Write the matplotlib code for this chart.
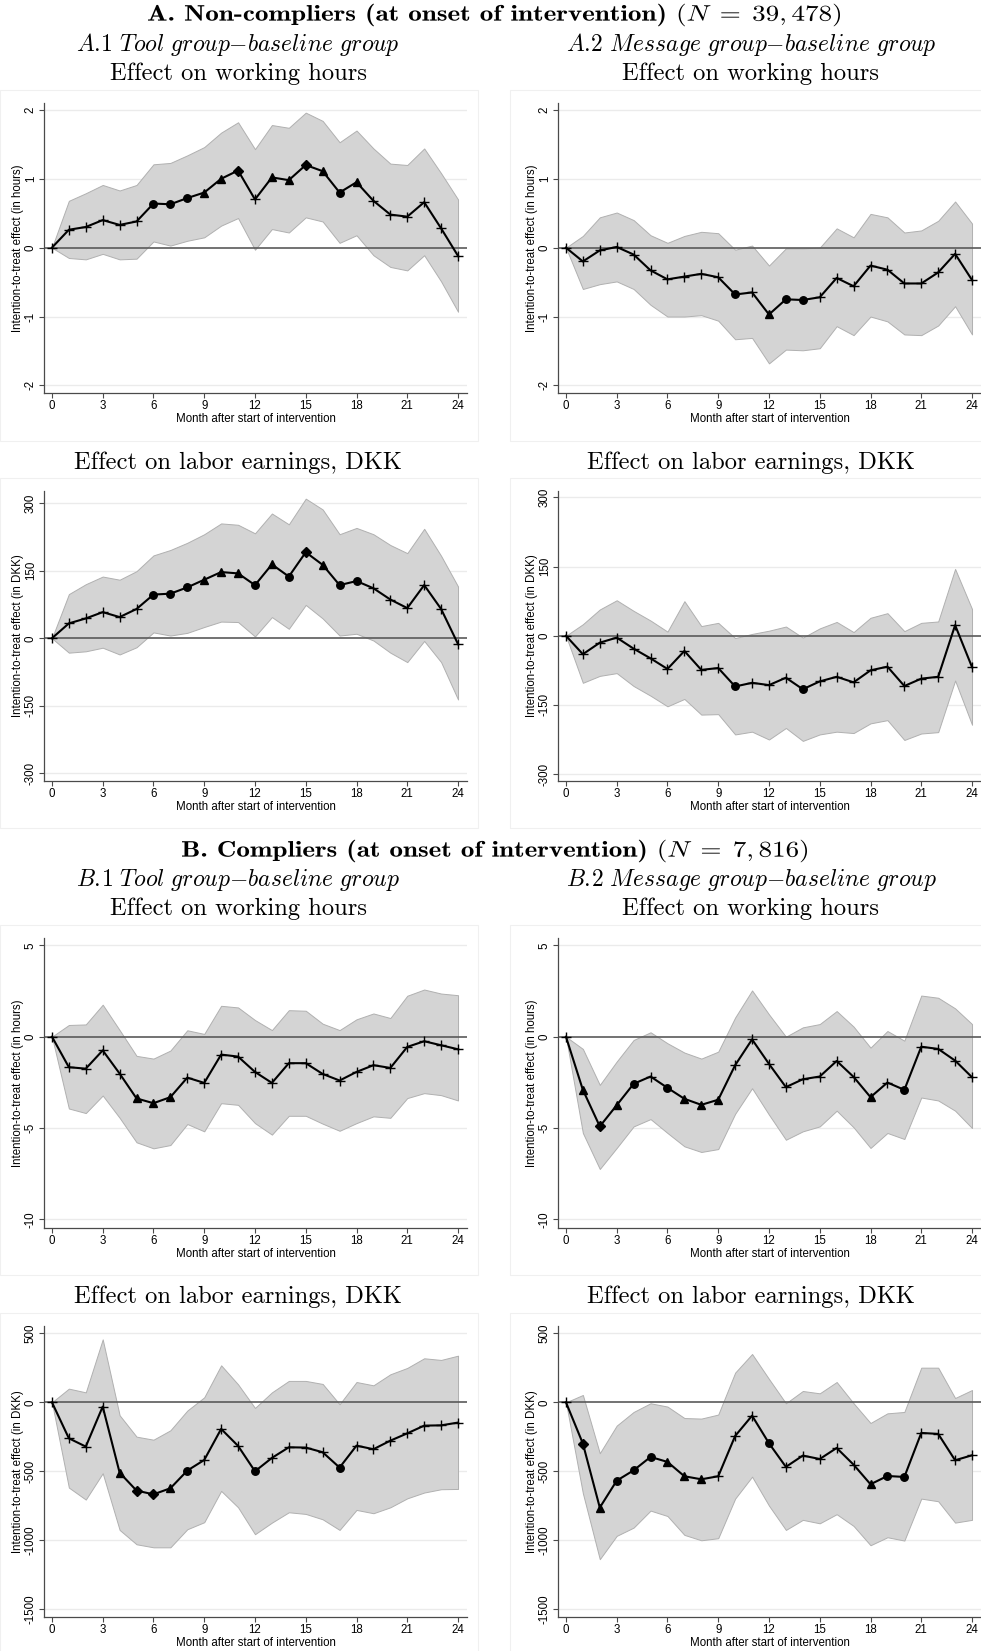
import matplotlib
matplotlib.use("Agg")
import matplotlib.pyplot as plt
from matplotlib.patches import Rectangle, PathPatch
from matplotlib.textpath import TextPath
from matplotlib.font_manager import FontProperties
from matplotlib.transforms import Affine2D, IdentityTransform

plt.rcParams["mathtext.fontset"] = "cm"
plt.rcParams["axes.unicode_minus"] = False
plt.rcParams["font.family"] = ["Liberation Sans", "DejaVu Sans"]

months = list(range(25))

# marker code per month: "+" not significant, "o" 10%, "^" 5%, "D" 1%
# ---- A. non-compliers ----
a1_hours = [0, 0.26, 0.30, 0.40, 0.33, 0.38, 0.64, 0.63, 0.72, 0.80, 1.00, 1.12, 0.70,
            1.02, 0.98, 1.20, 1.11, 0.80, 0.95, 0.68, 0.48, 0.45, 0.66, 0.28, -0.12]
a1_hours_hi = [0, 0.68, 0.79, 0.91, 0.83, 0.91, 1.21, 1.23, 1.34, 1.46, 1.67, 1.82, 1.43,
               1.78, 1.74, 1.96, 1.84, 1.53, 1.70, 1.44, 1.22, 1.20, 1.44, 1.08, 0.70]
a1_hours_lo = [0, -0.15, -0.17, -0.09, -0.17, -0.16, 0.09, 0.03, 0.10, 0.15, 0.32, 0.43, -0.03,
               0.27, 0.22, 0.44, 0.38, 0.07, 0.18, -0.11, -0.28, -0.33, -0.11, -0.49, -0.93]
a1_hours_sig = "++++++ooo^^D+^^D^o^++++++"

a2_hours = [0, -0.20, -0.04, 0.01, -0.10, -0.33, -0.46, -0.42, -0.38, -0.43, -0.68, -0.65, -0.97,
            -0.75, -0.76, -0.72, -0.44, -0.56, -0.26, -0.32, -0.52, -0.52, -0.36, -0.09, -0.47]
a2_hours_hi = [0, 0.17, 0.44, 0.51, 0.40, 0.18, 0.07, 0.17, 0.23, 0.21, -0.03, 0.03, -0.26,
               -0.01, -0.01, 0.00, 0.28, 0.15, 0.49, 0.44, 0.22, 0.25, 0.39, 0.67, 0.35]
a2_hours_lo = [0, -0.60, -0.53, -0.49, -0.60, -0.83, -1.00, -1.00, -0.98, -1.06, -1.33, -1.31, -1.68,
               -1.48, -1.49, -1.46, -1.14, -1.27, -1.00, -1.07, -1.26, -1.27, -1.13, -0.85, -1.26]
a2_hours_sig = "++++++++++o+^oo++++++++++"

a1_earn = [0, 33, 44, 58, 47, 65, 97, 99, 113, 130, 147, 144, 118,
           164, 137, 191, 163, 118, 127, 111, 86, 67, 118, 65, -13]
a1_earn_hi = [0, 98, 120, 137, 130, 149, 184, 196, 212, 231, 255, 252, 233,
              277, 253, 310, 286, 231, 245, 231, 207, 189, 243, 183, 115]
a1_earn_lo = [0, -32, -29, -21, -36, -20, 13, 6, 12, 25, 37, 36, 4,
              47, 21, 74, 44, 6, 10, -5, -32, -53, -6, -53, -136]
a1_earn_sig = "++++++ooo^^^o^oD^oo++++++"

a2_earn = [0, -40, -15, -4, -28, -49, -72, -33, -74, -70, -110, -102, -107,
           -91, -116, -99, -89, -101, -75, -67, -109, -93, -89, 23, -68]
a2_earn_hi = [0, 25, 57, 77, 54, 33, 9, 75, 21, 28, -5, 4, 11,
              20, -4, 16, 30, 8, 39, 49, 10, 28, 31, 145, 58]
a2_earn_lo = [0, -102, -87, -81, -109, -130, -153, -137, -171, -170, -214, -208, -225,
              -200, -228, -214, -208, -211, -190, -183, -226, -212, -209, -97, -193]
a2_earn_sig = "++++++++++o+++o++++++++++"

# ---- B. compliers ----
b1_hours = [0, -1.67, -1.75, -0.75, -2.02, -3.38, -3.64, -3.31, -2.24, -2.53, -0.98, -1.09, -1.93,
            -2.53, -1.45, -1.45, -2.04, -2.40, -1.93, -1.56, -1.71, -0.56, -0.25, -0.47, -0.69]
b1_hours_hi = [0, 0.64, 0.67, 1.75, 0.36, -1.05, -1.20, -0.76, 0.35, 0.15, 1.69, 1.60, 0.91,
               0.36, 1.45, 1.42, 0.71, 0.36, 0.95, 1.27, 1.02, 2.24, 2.58, 2.36, 2.27]
b1_hours_lo = [0, -3.93, -4.18, -3.22, -4.44, -5.78, -6.11, -5.93, -4.78, -5.18, -3.64, -3.73, -4.73,
               -5.36, -4.33, -4.33, -4.76, -5.15, -4.73, -4.36, -4.44, -3.36, -3.09, -3.20, -3.49]
b1_hours_sig = "+++++^^^+++++++++++++++++"

b2_hours = [0, -2.91, -4.91, -3.75, -2.58, -2.18, -2.80, -3.40, -3.73, -3.45, -1.56, -0.15, -1.49,
            -2.76, -2.33, -2.18, -1.33, -2.20, -3.31, -2.51, -2.91, -0.55, -0.67, -1.31, -2.22]
b2_hours_hi = [0, -0.67, -2.64, -1.36, -0.18, 0.24, -0.36, -0.87, -1.20, -0.82, 1.05, 2.53, 1.22,
               0.00, 0.51, 0.69, 1.40, 0.55, -0.60, 0.31, -0.22, 2.25, 2.13, 1.55, 0.69]
b2_hours_lo = [0, -5.27, -7.24, -6.09, -4.91, -4.51, -5.27, -6.00, -6.31, -6.15, -4.22, -2.82, -4.27,
               -5.64, -5.18, -4.91, -4.05, -4.96, -6.09, -5.27, -5.60, -3.33, -3.49, -4.05, -5.00]
b2_hours_sig = "+^D^o+o^^^++++++++^+o++++"

b1_earn = [0, -261, -321, -31, -510, -640, -667, -623, -495, -418, -193, -316, -500,
           -403, -326, -328, -362, -473, -314, -340, -278, -225, -169, -167, -147]
b1_earn_hi = [0, 99, 72, 456, -94, -249, -271, -203, -60, 36, 268, 130, -41,
              72, 155, 155, 133, -14, 147, 123, 203, 249, 319, 307, 338]
b1_earn_lo = [0, -618, -705, -514, -925, -1029, -1051, -1051, -920, -869, -642, -761, -956,
              -872, -797, -809, -848, -925, -780, -804, -761, -696, -654, -630, -628]
b1_earn_sig = "++++^DD^o+++o++++o+++++++"

b2_earn = [0, -299, -763, -568, -493, -396, -432, -536, -558, -536, -244, -97, -297,
           -468, -386, -411, -331, -452, -594, -534, -541, -222, -229, -420, -384]
b2_earn_hi = [0, 53, -369, -169, -70, -7, -31, -114, -118, -89, 215, 350, 169,
              -7, 82, 65, 147, -7, -150, -80, -70, 251, 251, 31, 89]
b2_earn_lo = [0, -659, -1137, -968, -908, -785, -824, -961, -1000, -985, -698, -539, -749,
              -925, -852, -877, -811, -896, -1036, -978, -1002, -698, -717, -872, -852]
b2_earn_sig = "+D^ooo^^^+++o+++++^oo++++"

W, H = 981, 1651
fig = plt.figure(figsize=(W / 100, H / 100), dpi=100)


def px_axes(x0, y0, x1, y1):
    return fig.add_axes([x0 / W, 1 - y1 / H, (x1 - x0) / W, (y1 - y0) / H])


def draw_panel(ax, est, lo, hi, sig, yticks, ylim, ylabel):
    ax.fill_between(months, lo, hi, facecolor="#d4d4d4", edgecolor="#b0b0b0", lw=0.7, zorder=1)
    for t in yticks:
        if t != 0:
            ax.axhline(t, color="#ebebeb", lw=1.0, zorder=0)
    ax.axhline(0, color="#5a5a5a", lw=1.2, zorder=2)
    ax.plot(months, est, color="black", lw=1.5, zorder=3)
    for m, v, s in zip(months, est, sig):
        if s == "+":
            ax.plot(m, v, marker="+", ms=7.5, mew=1.0, color="black", zorder=4)
        elif s == "o":
            ax.plot(m, v, marker="o", ms=5.4, color="black", zorder=4)
        elif s == "^":
            ax.plot(m, v, marker="^", ms=5.8, color="black", zorder=4)
        else:
            ax.plot(m, v, marker="D", ms=5.2, color="black", zorder=4)
    ax.set_xlim(-0.47, 24.53)
    ax.set_ylim(*ylim)
    ax.set_xticks(range(0, 25, 3))
    ax.set_yticks(yticks)
    for side in ("top", "right"):
        ax.spines[side].set_visible(False)
    for side in ("left", "bottom"):
        ax.spines[side].set_color("#4a4a4a")
        ax.spines[side].set_linewidth(0.9)
    ax.tick_params(length=3.6, width=0.8, color="#4a4a4a", labelsize=8.3, pad=1.5)
    for lab in ax.get_yticklabels():
        lab.set_rotation(90)
        lab.set_va("center")
    ax.set_xlabel("Month after start of intervention", fontsize=8.3, va="center")
    ax.xaxis.set_label_coords(0.5, -26 / 290)
    ax.set_ylabel(ylabel, fontsize=8.3, va="center")
    ax.yaxis.set_label_coords(-26 / 423, 0.5)


# faint graph-region frames
for x0, x1 in [(0, 478), (510, 990)]:
    for y0, y1 in [(90, 441), (478, 828), (925, 1275), (1313, 1660)]:
        fig.add_artist(Rectangle((x0 / W, 1 - y1 / H), (x1 - x0) / W, (y1 - y0) / H,
                                 transform=fig.transFigure, fill=False,
                                 edgecolor="#f0f0f0", lw=0.8))

cols = [(44, 467), (558, 981)]
rows = [(103, 393), (491, 781), (938, 1228), (1326, 1617)]

hours_lab = "Intention-to-treat effect (in hours)"
earn_lab = "Intention-to-treat effect (in DKK)"

panels = [
    (0, 0, a1_hours, a1_hours_lo, a1_hours_hi, a1_hours_sig, [-2, -1, 0, 1, 2], (-2.11, 2.1), hours_lab),
    (0, 1, a2_hours, a2_hours_lo, a2_hours_hi, a2_hours_sig, [-2, -1, 0, 1, 2], (-2.11, 2.1), hours_lab),
    (1, 0, a1_earn, a1_earn_lo, a1_earn_hi, a1_earn_sig, [-300, -150, 0, 150, 300], (-317, 327), earn_lab),
    (1, 1, a2_earn, a2_earn_lo, a2_earn_hi, a2_earn_sig, [-300, -150, 0, 150, 300], (-315, 314), earn_lab),
    (2, 0, b1_hours, b1_hours_lo, b1_hours_hi, b1_hours_sig, [-10, -5, 0, 5], (-10.47, 5.4), hours_lab),
    (2, 1, b2_hours, b2_hours_lo, b2_hours_hi, b2_hours_sig, [-10, -5, 0, 5], (-10.47, 5.4), hours_lab),
    (3, 0, b1_earn, b1_earn_lo, b1_earn_hi, b1_earn_sig, [-1500, -1000, -500, 0, 500], (-1556, 553), earn_lab),
    (3, 1, b2_earn, b2_earn_lo, b2_earn_hi, b2_earn_sig, [-1500, -1000, -500, 0, 500], (-1556, 553), earn_lab),
]

for r, c, est, lo, hi, sig, yt, yl, lab in panels:
    x0, x1 = cols[c]
    y0, y1 = rows[r]
    ax = px_axes(x0, y0, x1, y1)
    draw_panel(ax, est, lo, hi, sig, yt, yl, lab)


def ftext(x, y, s, **kw):
    fig.text(x / W, 1 - y / H, s, ha="center", va="center", **kw)


def wide_heading(xc, yc, s, em_px, width_px):
    # bold extended look: cmb10 outline stretched horizontally to the wanted width
    tp = TextPath((0, 0), s, size=em_px, prop=FontProperties(family="cmb10"))
    bb = tp.get_extents()
    sx = width_px / bb.width
    tr = (Affine2D().translate(-(bb.x0 + bb.x1) / 2, -(bb.y0 + bb.y1) / 2)
          .scale(sx, 1).translate(xc, H - yc))
    fig.add_artist(PathPatch(tr.transform_path(tp), facecolor="black", lw=0,
                             transform=IdentityTransform()))


# headings
wide_heading(494, 15, r"A. Non-compliers (at onset of intervention) $(N\;=\;39,478)$", 22.5, 692)
wide_heading(494.5, 851, r"B. Compliers (at onset of intervention) $(N\;=\;7,816)$", 22.5, 625)

ftext(238, 45, r"$\mathit{A.\!1\ Tool\ group{-}baseline\ group}$", fontsize=17)
ftext(751, 45, r"$\mathit{A.\!2\ Message\ group{-}baseline\ group}$", fontsize=17)
ftext(238, 880, r"$\mathit{B.\!1\ Tool\ group{-}baseline\ group}$", fontsize=17)
ftext(751, 880, r"$\mathit{B.\!2\ Message\ group{-}baseline\ group}$", fontsize=17)

for cx in (238, 751):
    ftext(cx, 74, "Effect on working hours", family="cmr10", fontsize=17.7)
    ftext(cx, 463, "Effect on labor earnings, DKK", family="cmr10", fontsize=17.7)
    ftext(cx, 909, "Effect on working hours", family="cmr10", fontsize=17.7)
    ftext(cx, 1297, "Effect on labor earnings, DKK", family="cmr10", fontsize=17.7)

fig.savefig("out.png", dpi=100, facecolor="white")
